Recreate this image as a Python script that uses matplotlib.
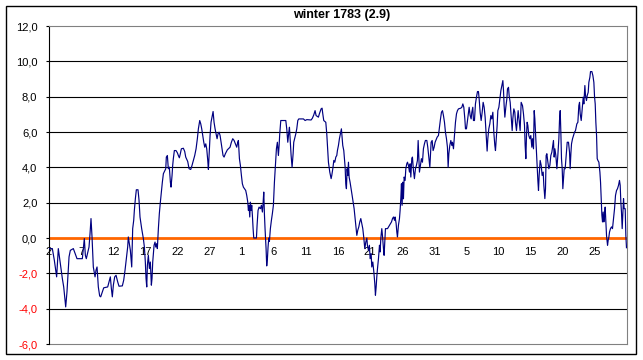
import matplotlib.pyplot as plt
from matplotlib.patches import Rectangle

plt.rcParams['font.family'] = ['Liberation Sans', 'DejaVu Sans']

title = "winter 1783 (2.9)"

# day labels every 5 days, Dec 2 .. Feb 25
label_days = [0, 5, 10, 15, 20, 25, 30, 35, 40, 45, 50, 55, 60, 65, 70, 75, 80, 85]
day_labels = ["2", "7", "12", "17", "22", "27", "1", "6", "11", "16", "21", "26",
              "31", "5", "10", "15", "20", "25"]

# readings (days after Dec 2, temperature)
days = [
    0.00, 0.52, 0.83, 1.19, 1.45, 1.76, 2.08, 2.29, 2.60, 2.80, 3.12, 3.32, 3.79, 4.16, 4.36,
    5.19, 5.35, 5.50, 5.66, 5.81, 6.23, 6.39, 6.54, 6.70, 6.90, 7.17, 7.32, 7.48, 7.68, 7.89,
    8.05, 8.30, 8.52, 9.14, 9.35, 9.55, 9.71, 9.86, 10.02, 10.23, 10.44, 10.70, 10.90, 11.42,
    11.63, 11.84, 12.04, 12.25, 12.35, 12.51, 12.67, 12.88, 13.03, 13.19, 13.29, 13.45, 13.60,
    13.86, 14.02, 14.17, 14.43, 14.69, 14.85, 15.00, 15.11, 15.22, 15.32, 15.47, 15.63, 15.78,
    15.94, 16.04, 16.15, 16.36, 16.51, 16.62, 16.77, 16.87, 17.03, 17.18, 17.34, 17.50, 17.65,
    17.81, 18.18, 18.27, 18.43, 18.58, 18.74, 18.90, 19.00, 19.16, 19.26, 19.36, 19.52, 19.78,
    19.99, 20.14, 20.30, 20.45, 20.61, 20.92, 21.13, 21.29, 21.60, 21.81, 22.07, 22.27, 22.48,
    22.69, 22.90, 23.10, 23.26, 23.47, 23.63, 23.78, 23.94, 24.10, 24.25, 24.41, 24.56, 24.72,
    24.82, 24.92, 25.08, 25.23, 25.39, 25.55, 25.70, 25.86, 26.01, 26.17, 26.32, 26.48, 26.64,
    26.79, 26.95, 27.10, 27.26, 27.46, 27.77, 28.19, 28.40, 28.61, 28.82, 29.02, 29.23, 29.39,
    29.49, 29.65, 29.80, 29.96, 30.11, 30.27, 30.63, 30.79, 30.95, 31.05, 31.15, 31.26, 31.36,
    31.46, 31.57, 31.67, 31.78, 31.88, 32.30, 32.40, 32.55, 32.71, 32.92, 33.07, 33.23, 33.33,
    33.44, 33.54, 33.64, 33.80, 33.90, 34.01, 34.11, 34.22, 34.32, 34.47, 34.63, 34.78, 34.94,
    35.10, 35.25, 35.41, 35.56, 35.72, 35.83, 35.93, 36.09, 36.87, 37.02, 37.18, 37.34, 37.44,
    37.59, 37.70, 37.85, 38.01, 38.11, 38.43, 38.58, 38.74, 38.89, 39.62, 39.88, 40.14, 40.81,
    41.01, 41.23, 41.43, 41.59, 41.95, 42.10, 42.37, 42.52, 42.63, 42.78, 43.10, 43.25, 43.36,
    43.51, 43.72, 43.93, 44.03, 44.19, 44.35, 44.50, 44.66, 44.81, 44.91, 45.07, 45.22, 45.38,
    45.53, 45.64, 45.74, 45.90, 46.00, 46.11, 46.21, 46.31, 46.42, 46.52, 46.63, 46.73, 46.88,
    47.04, 47.20, 47.35, 47.51, 47.66, 47.82, 47.93, 48.08, 48.24, 48.39, 48.55, 48.70, 48.86,
    49.02, 49.17, 49.33, 49.49, 49.58, 49.74, 49.89, 50.00, 50.16, 50.26, 50.42, 50.58, 50.73,
    50.83, 50.94, 51.04, 51.15, 51.30, 51.46, 51.56, 51.67, 51.82, 51.92, 52.08, 52.18, 52.29,
    52.39, 52.71, 52.87, 53.02, 53.33, 53.49, 53.64, 53.80, 53.89, 54.05, 54.16, 54.26, 54.41,
    54.57, 54.67, 54.78, 54.88, 54.98, 55.09, 55.19, 55.30, 55.45, 55.56, 55.71, 55.82, 55.97,
    56.13, 56.23, 56.34, 56.49, 56.59, 56.75, 56.90, 57.06, 57.21, 57.37, 57.48, 57.58, 57.68,
    57.84, 57.99, 58.15, 58.30, 58.46, 58.61, 58.83, 58.98, 59.14, 59.30, 59.50, 59.66, 59.81,
    59.97, 60.12, 60.44, 60.64, 60.80, 60.96, 61.11, 61.27, 61.42, 61.58, 61.73, 61.89, 62.04,
    62.15, 62.26, 62.41, 62.57, 62.72, 62.82, 62.98, 63.13, 63.29, 63.45, 63.60, 63.76, 64.12,
    64.28, 64.44, 64.59, 64.75, 64.85, 65.00, 65.16, 65.32, 65.42, 65.58, 65.73, 65.84, 65.99,
    66.09, 66.25, 66.40, 66.56, 66.72, 66.87, 66.98, 67.13, 67.29, 67.45, 67.60, 67.76, 67.91,
    68.07, 68.22, 68.33, 68.48, 68.64, 68.80, 68.95, 69.11, 69.26, 69.42, 69.52, 69.63, 69.78,
    69.89, 70.05, 70.20, 70.36, 70.51, 70.67, 70.77, 70.87, 70.98, 71.13, 71.29, 71.39, 71.55,
    71.65, 71.81, 71.96, 72.12, 72.22, 72.38, 72.53, 72.64, 72.79, 72.95, 73.05, 73.21, 73.36,
    73.52, 73.73, 73.88, 74.04, 74.14, 74.25, 74.35, 74.45, 74.56, 74.71, 74.87, 75.02, 75.18,
    75.28, 75.44, 75.55, 75.65, 75.75, 75.86, 76.01, 76.12, 76.22, 76.32, 76.48, 76.64, 76.79,
    76.95, 77.05, 77.21, 77.31, 77.41, 77.52, 77.68, 77.83, 77.99, 78.14, 78.30, 78.45, 78.55,
    78.66, 78.77, 78.92, 79.08, 79.23, 79.39, 79.49, 79.60, 79.70, 79.80, 79.91, 80.01, 80.11,
    80.22, 80.37, 80.53, 80.69, 80.89, 81.05, 81.15, 81.26, 81.36, 81.52, 81.67, 81.83, 81.98,
    82.19, 82.35, 82.50, 82.61, 82.71, 82.87, 83.02, 83.18, 83.28, 83.44, 83.54, 83.69, 83.80,
    83.96, 84.06, 84.22, 84.32, 84.53, 84.69, 84.84, 84.95, 85.05, 85.15, 85.26, 85.36, 85.47,
    85.62, 85.78, 85.88, 85.98, 86.09, 86.19, 86.29, 86.40, 86.50, 86.60, 86.71, 86.81, 86.97,
    87.07, 87.18, 87.28, 87.43, 87.59, 87.74, 87.90, 88.06, 88.21, 88.37, 88.52, 88.68, 88.83,
    88.94, 89.04, 89.14, 89.25, 89.35, 89.46, 89.56, 89.72, 89.82, 89.92,
]
temps = [
    -0.60, -0.60, -1.26, -2.20, -0.60, -1.45, -2.30, -2.77, -3.90, -3.05, -1.07, -0.70, -0.60, -0.98, -1.17,
    -1.17, -0.60, -0.03, -0.98, -1.17, -0.51, 0.25, 1.10, 0.06, -1.64, -2.20, -1.82, -1.64, -2.77, -3.28,
    -3.33, -3.05, -2.82, -2.77, -2.49, -2.20, -2.86, -3.33, -2.67, -2.20, -2.11, -2.49, -2.73, -2.71,
    -2.39, -1.82, -1.17, -0.51, 0.06, -0.32, -0.70, -1.64, 0.53, 1.00, 1.56, 2.23, 2.73,
    2.73, 2.13, 1.19, 0.53, -0.03, -0.51, -1.36, -2.29, -2.77, -1.54, -0.98, -1.73, -1.36,
    -2.67, -2.29, -1.36, -0.41, -0.23, -0.51, -0.32, -0.60, 0.53, 1.38, 2.03, 2.60, 3.16,
    3.64, 3.92, 4.58, 4.67, 3.92, 4.01, 3.16, 2.88, 3.54, 4.11, 4.49, 4.95, 4.95,
    4.82, 4.67, 4.54, 4.77, 5.05, 5.08, 4.90, 4.58, 4.33, 3.92, 3.88, 4.11, 4.39,
    4.67, 5.05, 5.62, 6.18, 6.65, 6.46, 6.18, 5.80, 5.42, 5.14, 5.33, 5.05, 4.39,
    3.88, 4.67, 5.80, 6.55, 6.84, 7.16, 6.55, 6.18, 5.90, 5.62, 5.90, 5.99, 5.80,
    5.42, 5.05, 4.67, 4.58, 4.77, 4.99, 5.14, 5.42, 5.62, 5.52, 5.33, 5.14, 5.42,
    5.52, 4.49, 4.11, 3.54, 3.07, 2.88, 2.69, 2.41, 2.03, 1.56, 1.85, 1.19, 2.03,
    1.56, 1.85, 1.28, 0.53, 0.00, 0.00, 0.72, 1.56, 1.75, 1.66, 1.85, 1.47, 1.94,
    2.60, 1.38, 0.53, -0.60, -1.58, -1.17, -0.51, 0.00, -0.19, 0.53, 1.00, 1.38, 1.85,
    3.16, 4.11, 5.05, 5.42, 4.67, 5.24, 5.90, 6.65, 6.65, 6.18, 5.42, 5.99, 6.27,
    5.33, 4.67, 4.01, 4.77, 5.42, 5.90, 6.18, 6.65, 6.74, 6.74, 6.65, 6.70, 6.68,
    6.78, 6.97, 7.21, 6.93, 6.84, 7.03, 7.31, 7.35, 7.03, 6.65, 6.55, 5.90, 5.24,
    4.29, 3.73, 3.36, 3.54, 3.92, 4.39, 4.29, 4.58, 4.67, 4.95, 5.24, 5.62, 5.90,
    6.18, 5.71, 5.24, 4.95, 4.49, 4.01, 3.07, 2.79, 3.92, 3.54, 4.29, 3.45, 3.16,
    2.79, 2.41, 2.03, 1.66, 1.10, 0.44, 0.15, 0.44, 0.63, 0.91, 1.10, 0.82, 0.53,
    0.00, -0.60, -0.23, 0.00, -0.41, -0.70, -0.41, -1.17, -0.88, -1.64, -1.36, -1.92, -2.58,
    -3.24, -2.77, -2.20, -1.73, -1.17, -0.41, -0.79, 0.00, 0.53, 0.15, -0.60, -0.98, -0.23,
    0.53, 0.53, 0.63, 0.72, 0.91, 1.10, 1.19, 1.00, 1.19, 0.82, 0.34, 0.06, 0.72,
    1.10, 1.56, 2.22, 3.07, 1.85, 3.16, 2.22, 3.45, 3.26, 3.92, 4.20, 4.29, 4.11,
    3.73, 4.20, 3.45, 4.49, 4.58, 3.82, 3.36, 3.92, 4.11, 4.39, 5.52, 4.67, 3.73,
    4.11, 4.49, 4.29, 5.05, 5.33, 5.52, 5.52, 5.14, 4.58, 4.01, 5.42, 5.52, 4.95,
    5.14, 5.42, 5.71, 5.80, 6.27, 6.74, 7.12, 7.21, 6.93, 6.55, 5.99, 5.62, 5.14,
    4.01, 4.77, 5.24, 5.52, 5.24, 5.42, 5.05, 5.80, 6.55, 7.03, 7.21, 7.31, 7.35,
    7.40, 7.59, 7.40, 6.74, 6.18, 6.18, 6.65, 7.12, 7.40, 6.93, 6.74, 7.12, 7.40,
    6.65, 6.65, 7.59, 7.97, 8.29, 8.29, 7.87, 7.12, 6.65, 7.12, 7.68, 7.40, 6.84,
    5.80, 4.92, 5.62, 6.18, 6.46, 6.93, 6.74, 7.12, 5.99, 5.24, 4.95, 5.52, 6.37,
    7.21, 7.40, 7.87, 8.34, 8.63, 8.91, 8.34, 7.49, 6.84, 7.40, 7.87, 8.44, 8.53,
    8.06, 7.68, 6.93, 6.08, 6.74, 7.31, 7.12, 6.55, 6.08, 6.74, 7.21, 6.65, 6.08,
    7.68, 7.49, 7.03, 6.37, 5.24, 4.49, 5.80, 6.55, 6.37, 5.80, 5.62, 5.80, 5.14,
    5.62, 5.05, 7.21, 6.74, 5.99, 5.05, 3.92, 3.26, 2.69, 3.54, 4.39, 4.11, 3.54,
    3.73, 2.98, 2.23, 2.79, 4.67, 4.77, 4.29, 3.92, 4.11, 4.67, 4.86, 5.24, 5.52,
    4.58, 5.05, 4.67, 3.92, 4.67, 5.62, 6.65, 7.21, 5.99, 4.49, 3.92, 2.79, 3.36,
    3.92, 3.92, 4.67, 5.42, 5.42, 4.86, 3.92, 4.77, 5.33, 5.62, 5.80, 5.99, 6.08,
    6.46, 6.55, 7.49, 7.68, 7.03, 6.65, 7.31, 7.97, 7.59, 8.63, 8.06, 7.78, 8.06,
    8.25, 8.81, 9.10, 9.42, 9.42, 9.19, 8.81, 7.97, 7.59, 6.55, 5.80, 4.49, 4.39,
    4.29, 3.73, 3.16, 2.23, 1.28, 0.91, 1.47, 0.91, 1.28, 1.75, 0.91, 0.15, -0.41,
    -0.13, 0.06, 0.34, 0.53, 0.63, 0.53, 1.10, 1.66, 2.41, 2.69, 2.79, 2.98, 3.26,
    2.98, 2.03, 1.47, 0.53, 1.28, 2.23, 1.66, 1.66, 0.15, -0.55,
]

y_ticks = [-6, -4, -2, 0, 2, 4, 6, 8, 10, 12]

fig = plt.figure(figsize=(6.43, 3.6), dpi=100)
ax = fig.add_axes([49 / 643, 16 / 360, 578 / 643, 318 / 360])
ax.set_xlim(0, 90)
ax.set_ylim(-6, 12)

# horizontal gridlines
for v in y_ticks:
    if v in (-6, 0, 12):
        continue
    ax.axhline(v, color='black', lw=0.8, zorder=1)

# zero line (orange) and the series
ax.axhline(0, color='#FF6600', lw=2.0, zorder=2)
ax.plot(days, temps, color='#000080', lw=0.85, zorder=3)

# frame
ax.spines['left'].set_color('black')
ax.spines['left'].set_linewidth(0.8)
for s in ('top', 'right'):
    ax.spines[s].set_color('#808080')
    ax.spines[s].set_linewidth(0.8)
ax.spines['bottom'].set_position(('data', 0))
ax.spines['bottom'].set_visible(False)
ax.axhline(-6, color='#808080', lw=0.8, clip_on=False, zorder=1)

# x labels below the zero line
ax.set_xticks(label_days, day_labels)
ax.tick_params(axis='x', length=0, pad=6.5, labelsize=8)

# y labels
ax.set_yticks(y_ticks, [f"{v:.1f}".replace('.', ',') for v in y_ticks])
ax.tick_params(axis='y', length=2.4, width=0.8, pad=6, labelsize=8)
for lab, v in zip(ax.get_yticklabels(), y_ticks):
    lab.set_color('red' if v < 0 else 'black')

fig.text(342 / 643, 1 - 15 / 360, title, ha='center', va='center',
         fontsize=9, fontweight='bold')

fig.patches.append(Rectangle((6 / 643, 6 / 360), 630 / 643, 348 / 360,
                             transform=fig.transFigure, fill=False,
                             ec='black', lw=1.0))

fig.savefig('out.png', dpi=100)
